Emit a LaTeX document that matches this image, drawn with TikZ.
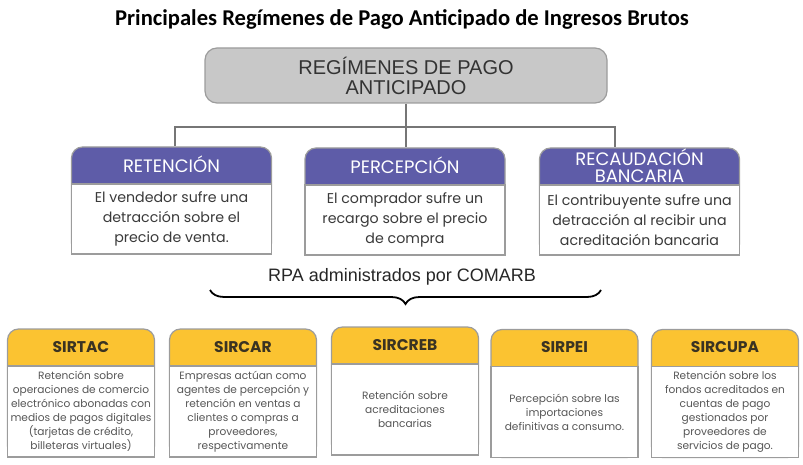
\documentclass[tikz,border=0pt]{standalone}
\usepackage{fontspec}
\setmainfont{Poppins}
\newfontfamily\carlito{Carlito}
\newfontfamily\liber{Liberation Sans}
\usetikzlibrary{positioning,decorations.pathreplacing}

\definecolor{rpapurple}{HTML}{5E5CA8}
\definecolor{rpayellow}{HTML}{FBC331}
\definecolor{rootgray}{HTML}{C8C8C8}
\definecolor{edgegray}{HTML}{767676}
\definecolor{cardline}{HTML}{9C9C9C}
\definecolor{bodytext}{HTML}{3A3A3A}
\definecolor{ytext}{HTML}{3A3322}

\tikzset{
  link/.style={draw=edgegray, line width=1.6pt},
  rootbox/.style={draw=cardline, fill=rootgray, line width=1.2pt, rounded corners=12pt,
    minimum width=402pt, minimum height=55pt, align=center, text=black!80,
    font=\liber\fontsize{20}{20}\selectfont},
  purplecard/.style={draw=cardline, fill=rpapurple, line width=1.2pt, rounded corners=11pt,
    minimum width=200pt, minimum height=107pt},
  purpletitle/.style={text=white, minimum width=200pt, minimum height=37pt, inner sep=0pt,
    align=center, font=\fontsize{18}{17}\selectfont},
  midbody/.style={draw=cardline, fill=white, line width=1.2pt, minimum width=200pt,
    minimum height=70pt, align=center, text=bodytext,
    font=\fontsize{14.2}{20}\selectfont},
  yellowcard/.style={draw=cardline, fill=rpayellow, line width=1.2pt, rounded corners=11pt,
    minimum width=147pt, minimum height=128pt},
  yellowtitle/.style={text=ytext, minimum width=147pt, minimum height=37pt, inner sep=0pt,
    font=\bfseries\fontsize{15.5}{16}\selectfont},
  lowbody/.style={draw=cardline, fill=white, line width=1.2pt, minimum width=147pt,
    minimum height=91pt, inner ysep=2pt, align=center, text=bodytext!85,
    font=\fontsize{10.6}{14}\selectfont},
  bracket/.style={decorate, decoration={brace, amplitude=14pt}, line width=1.8pt},
}

\begin{document}
\begin{tikzpicture}[x=1pt, y=-1pt]
  \useasboundingbox (0,0) rectangle (803,465);

  \node[font=\carlito\bfseries\fontsize{22.6}{26}\selectfont] (title) at (402,19)
    {Principales Regímenes de Pago Anticipado de Ingresos Brutos};

  \node[rootbox] (root) at (406,75.5) {REGÍMENES DE PAGO\\ ANTICIPADO};

  % middle row
  \node[purplecard] (ret) at (171.5,200.5) {};
  \node[midbody, anchor=south] (retb) at (ret.south)
    {El vendedor sufre una\\ detracción sobre el\\ precio de venta.};
  \node[purpletitle, above=0pt of retb] (rett) {RETENCIÓN};

  \node[purplecard] (perc) at (405,201.5) {};
  \node[midbody, anchor=south] (percb) at (perc.south)
    {El comprador sufre un\\ recargo sobre el precio\\ de compra};
  \node[purpletitle, above=0pt of percb] (perct) {PERCEPCIÓN};

  \node[purplecard] (rec) at (639.5,201.5) {};
  \node[midbody, anchor=south] (recb) at (rec.south)
    {El contribuyente sufre una\\ detracción al recibir una\\ acreditación bancaria};
  \node[purpletitle, above=0pt of recb] (rect) {RECAUDACIÓN\\ BANCARIA};

  \coordinate (jn) at (406,127);
  \draw[link] (root.south) -- (jn);
  \draw[link] (jn) -| ([xshift=3.5pt]ret.north);
  \draw[link] (jn) -- (jn |- perc.north);
  \draw[link] (jn) -| ([xshift=-24.5pt]rec.north);

  % COMARB
  \node[font=\liber\fontsize{18}{20}\selectfont, text=black!85] (rpa) at (402,277)
    {RPA administrados por COMARB};
  \coordinate (brl) at (210,290);
  \coordinate (brr) at (601,290);
  \draw[bracket] (brr) -- (brl);

  % bottom row
  \node[yellowcard] (sirtac) at (81,393) {};
  \node[lowbody, anchor=south] (sirtacb) at (sirtac.south)
    {Retención sobre\\ operaciones de comercio\\ electrónico abonadas con\\ medios de pagos digitales\\ (tarjetas de crédito,\\ billeteras virtuales)};
  \node[yellowtitle, above=0pt of sirtacb] (sirtact) {SIRTAC};

  \node[yellowcard] (sircar) at (243,393) {};
  \node[lowbody, anchor=south] (sircarb) at (sircar.south)
    {Empresas actúan como\\ agentes de percepción y\\ retención en ventas a\\ clientes o compras a\\ proveedores,\\ respectivamente};
  \node[yellowtitle, above=0pt of sircarb] (sircart) {SIRCAR};

  \node[yellowcard] (sircreb) at (405,391) {};
  \node[lowbody, anchor=south] (sircrebb) at (sircreb.south)
    {Retención sobre\\ acreditaciones\\ bancarias};
  \node[yellowtitle, above=0pt of sircrebb] (sircrebt) {SIRCREB};

  \node[yellowcard] (sirpei) at (564.5,393.5) {};
  \node[lowbody, anchor=south] (sirpeib) at (sirpei.south)
    {Percepción sobre las\\ importaciones\\ definitivas a consumo.};
  \node[yellowtitle, above=0pt of sirpeib] (sirpeit) {SIRPEI};

  \node[yellowcard] (sircupa) at (725,393.5) {};
  \node[lowbody, anchor=south] (sircupab) at (sircupa.south)
    {Retención sobre los\\ fondos acreditados en\\ cuentas de pago\\ gestionados por\\ proveedores de\\ servicios de pago.};
  \node[yellowtitle, above=0pt of sircupab] (sircupat) {SIRCUPA};
\end{tikzpicture}
\end{document}
